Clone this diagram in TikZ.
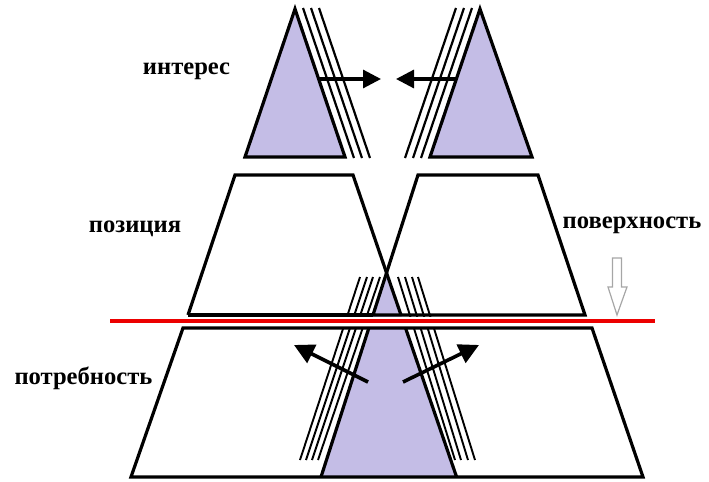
\documentclass[tikz,border=0pt]{standalone}
\usepackage{fontspec}
\setmainfont{Liberation Serif}
\usepackage{tikz}
\usetikzlibrary{arrows.meta,calc}
\definecolor{lilac}{RGB}{196,189,230}
\definecolor{cutred}{RGB}{236,0,0}
\tikzset{
	outline/.style={draw, line width=1.6pt, line join=miter},
	hatch/.style={line width=0.95pt},
	push/.style={-{Triangle[length=9pt,width=9pt]}, line width=1.6pt},
	pushbig/.style={-{Triangle[length=10pt,width=10pt]}, line width=1.8pt},
	level/.style={font=\fontsize{12.3}{14}\selectfont\bfseries, anchor=base, inner sep=0pt}
}

\begin{document}
\begin{tikzpicture}[x=0.5pt, y=-0.5pt]
	\useasboundingbox (0,0) rectangle (709,482);
	
	%% -- Top triangles (interests)
	\coordinate (lapex) at (295,9);
	\coordinate (lbl) at (245,157);
	\coordinate (lbr) at (345,157);
	\coordinate (rapex) at (480,9);
	\coordinate (rbl) at (430,157);
	\coordinate (rbr) at (532,157);
	\filldraw[outline, fill=lilac] (lapex) -- (lbr) -- (lbl) -- cycle;
	\filldraw[outline, fill=lilac] (rapex) -- (rbr) -- (rbl) -- cycle;
	\foreach \d in {8,16,24} {
		\draw[hatch, line width=1.1pt] ($(lapex)+(\d,-1)$) -- ($(lbr)+(\d+1,1)$);
		\draw[hatch, line width=1.1pt] ($(rapex)+(-\d,-1)$) -- ($(rbl)+(-\d-1,1)$);
	}
	\coordinate (lpush) at (319,79);
	\coordinate (rpush) at (457,79);
	\coordinate (ltip) at (381,79);
	\coordinate (rtip) at (396,79);
	\draw[push] (lpush) -- (ltip);
	\draw[push] (rpush) -- (rtip);
	
	%% -- Deep triangle (needs), behind everything below
	\coordinate (napex) at (386.6,272.8);
	\coordinate (nbl) at (321,477);
	\coordinate (nbr) at (456.6,477);
	\fill[lilac] (napex) -- (nbr) -- (nbl) -- cycle;
	\foreach \t/\b in {360/300,367/306,373/312,380/318} {
		\draw[hatch] (\t,277) -- (\b,460);
	}
	\foreach \t/\b in {398/455,405/461,412/468,418/475} {
		\draw[hatch] (\t,277) -- (\b,460);
	}
	
	%% -- Band round the surface line
	\fill[white] (110,316.5) rectangle (655,326.5);
	
	%% -- Middle trapezoids (positions)
	\draw[outline] (188,315) -- (235,175) -- (353,175) -- (401,315);
	\draw[outline] (373,315) -- (418,175) -- (538,175) -- (585,315) -- cycle;
	\draw[outline] (188,315) -- (373,315);
	
	%% -- Bottom trapezoid
	\draw[outline] (183,328) -- (592,328) -- (643,477) -- (131,477) -- cycle;
	\draw[outline] ($(napex)!0.27!(nbl)$) -- (nbl);
	\draw[outline] ($(napex)!0.27!(nbr)$) -- (nbr);
	
	%% -- Outward pushes
	\coordinate (lout) at (368,382);
	\coordinate (rout) at (403,382);
	\coordinate (louttip) at (294,345);
	\coordinate (routtip) at (479,345);
	\draw[pushbig] (lout) -- (louttip);
	\draw[pushbig] (rout) -- (routtip);
	
	%% -- Surface line and hollow arrow
	\draw[cutred, line width=1.6pt] (110,321) -- (655,321);
	\draw[gray!70, line width=0.6pt, line join=miter]
	(612.5,258) -- (621.5,258) -- (621.5,287) -- (627,287) -- (617,315)
	-- (608,287) -- (612.5,287) -- cycle;
	
	%% -- Labels
	\node[level] (interest) at (186.5,75) {интерес};
	\node[level] (position) at (135,233) {позиция};
	\node[level] (surface) at (632,228) {поверхность};
	\node[level] (need) at (83.5,385) {потребность};
	
\end{tikzpicture}
\end{document}
